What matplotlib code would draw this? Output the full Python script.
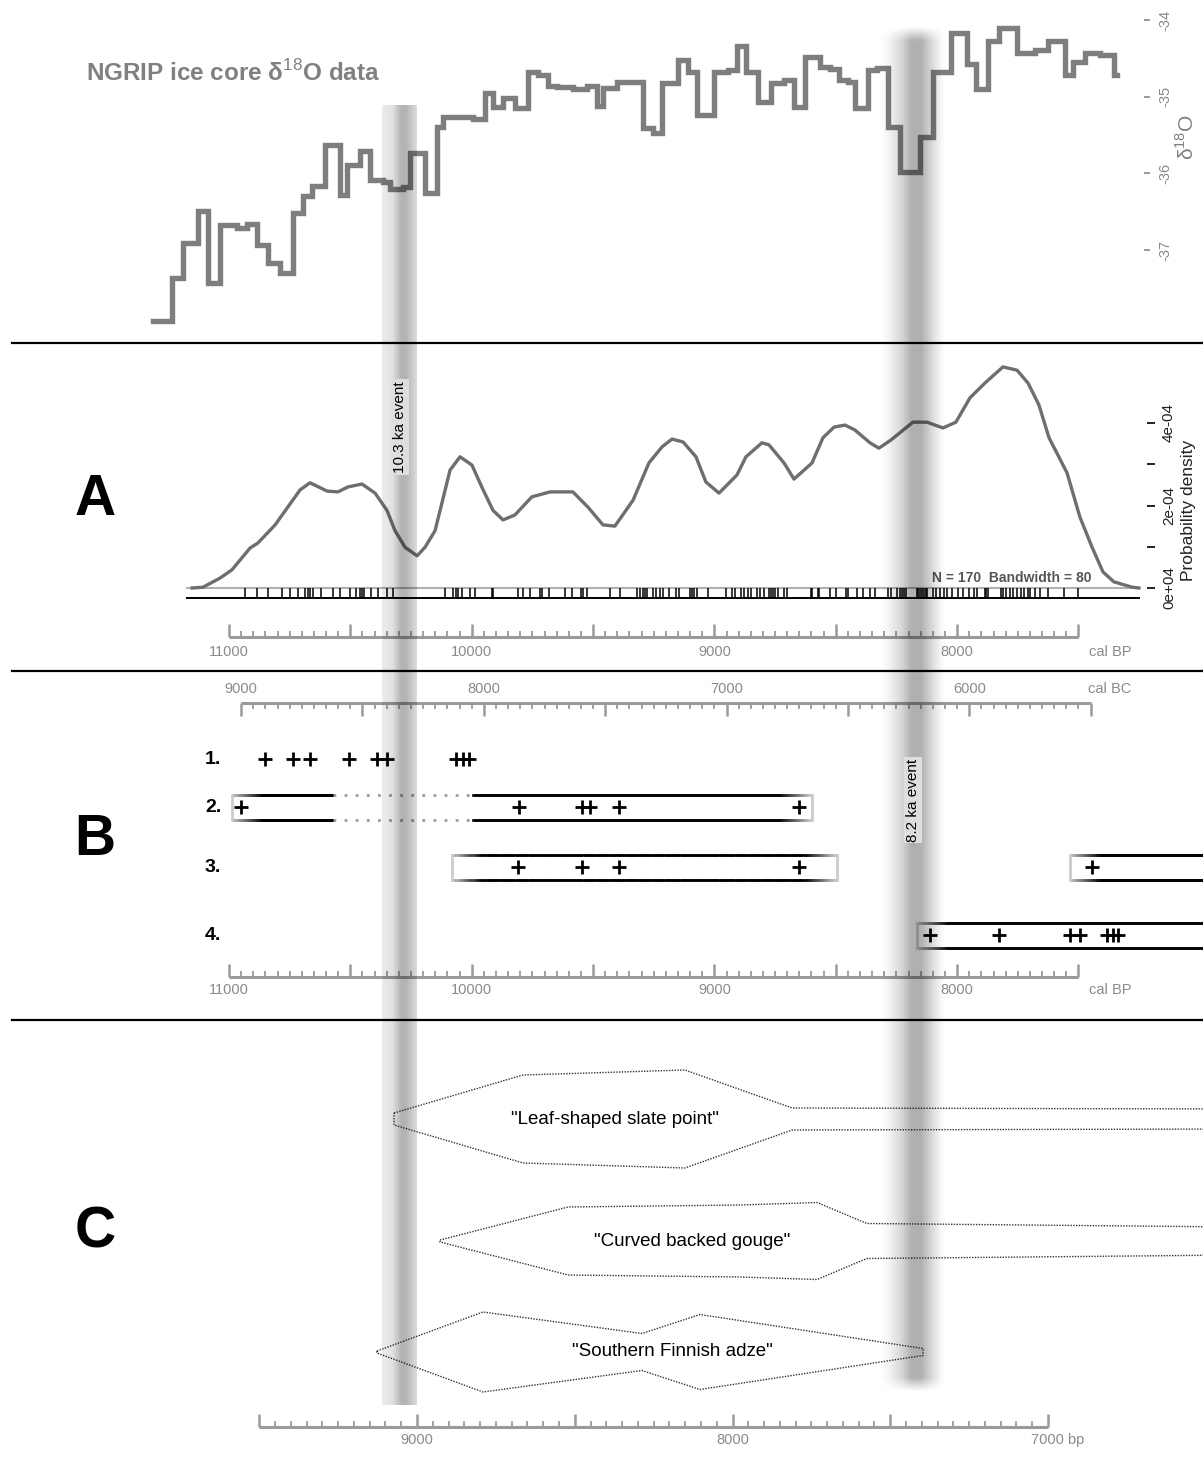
import numpy as np
import matplotlib.pyplot as plt
import matplotlib.transforms as mtransforms
from matplotlib.collections import LineCollection
from matplotlib.lines import Line2D

W, H = 1203, 1465
plt.rcParams['font.family'] = ['Liberation Sans', 'DejaVu Sans']
plt.rcParams['mathtext.fontset'] = 'custom'
plt.rcParams['mathtext.rm'] = 'Liberation Sans'

# ---------------- data ----------------
# NGRIP d18O, one value per step (step start in cal BP)
ngrip_bp = [11313, 11235, 11190, 11128, 11087, 11037, 10967, 10926, 10885, 10839,
            10790, 10736, 10695, 10658, 10604, 10543, 10514, 10460, 10419, 10365,
            10337, 10283, 10254, 10192, 10143, 10118, 10048, 9995, 9945, 9912,
            9871, 9822, 9768, 9727, 9686, 9649, 9583, 9525, 9484, 9459,
            9401, 9294, 9253, 9216, 9150, 9109, 9072, 9002, 8944, 8907,
            8870, 8820, 8767, 8713, 8672, 8627, 8565, 8524, 8487, 8450,
            8421, 8367, 8330, 8285, 8235, 8153, 8099, 8025, 7959, 7922,
            7873, 7827, 7753, 7679, 7626, 7555, 7522, 7473, 7411, 7354]
ngrip_d18o = [-37.92, -37.36, -36.91, -36.49, -37.43, -36.67, -36.71, -36.66, -36.93, -37.17,
              -37.30, -36.52, -36.29, -36.16, -35.63, -36.28, -35.89, -35.71, -36.09, -36.11,
              -36.20, -36.18, -35.73, -36.26, -35.40, -35.26, -35.26, -35.29, -34.95, -35.13,
              -35.02, -35.15, -34.68, -34.72, -34.86, -34.87, -34.90, -34.86, -35.12, -34.89,
              -34.81, -35.41, -35.47, -34.82, -34.52, -34.68, -35.24, -34.68, -34.65, -34.34,
              -34.68, -35.07, -34.82, -34.78, -35.13, -34.48, -34.61, -34.64, -34.78, -34.81,
              -35.15, -34.65, -34.63, -35.40, -35.98, -35.53, -34.68, -34.17, -34.57, -34.90,
              -34.27, -34.10, -34.43, -34.39, -34.27, -34.72, -34.55, -34.43, -34.46, -34.72]
ngrip_end = 7341
d18o_ticks = [-34, -35, -36, -37]

# summed 14C dates: kernel density (x 1e-4) and rug of dates
kde_bp = [11152, 11107, 11037, 10988, 10913, 10881, 10810, 10707, 10666, 10596,
          10551, 10510, 10452, 10398, 10349, 10316, 10275, 10225, 10192, 10151,
          10089, 10048, 9999, 9953, 9912, 9871, 9822, 9752, 9677, 9583,
          9521, 9459, 9410, 9335, 9270, 9216, 9175, 9129, 9076, 9035,
          8981, 8907, 8870, 8804, 8775, 8713, 8672, 8598, 8553, 8507,
          8462, 8421, 8359, 8322, 8272, 8182, 8124, 8058, 8005, 7947,
          7885, 7811, 7753, 7708, 7663, 7621, 7547, 7494, 7444, 7399,
          7354, 7279, 7251]
kde_dens = [0.00, 0.02, 0.24, 0.44, 0.97, 1.09, 1.53, 2.38, 2.55, 2.35,
            2.33, 2.45, 2.52, 2.30, 1.88, 1.39, 0.99, 0.78, 0.99, 1.39,
            2.86, 3.18, 2.98, 2.38, 1.88, 1.65, 1.77, 2.21, 2.33, 2.33,
            1.96, 1.53, 1.50, 2.13, 3.03, 3.42, 3.61, 3.54, 3.18, 2.57,
            2.30, 2.74, 3.18, 3.52, 3.47, 3.03, 2.64, 3.03, 3.64, 3.90,
            3.95, 3.83, 3.52, 3.39, 3.59, 4.02, 4.02, 3.88, 4.02, 4.61,
            4.97, 5.36, 5.28, 4.97, 4.44, 3.64, 2.79, 1.72, 0.99, 0.39,
            0.15, 0.02, 0.00]
rug_bp = [10934, 10886, 10841, 10783, 10749, 10714, 10687, 10673, 10666, 10653,
          10621, 10570, 10543, 10501, 10477, 10460, 10453, 10443, 10415, 10387,
          10348, 10323, 10110, 10076, 10065, 10055, 10041, 10007, 9986, 9918,
          9913, 9808, 9787, 9760, 9719, 9709, 9680, 9616, 9588, 9550,
          9540, 9526, 9430, 9389, 9320, 9307, 9296, 9286, 9277, 9252,
          9241, 9225, 9210, 9188, 9159, 9144, 9099, 9092, 9085, 9070,
          9026, 8952, 8929, 8915, 8892, 8877, 8863, 8848, 8826, 8811,
          8796, 8774, 8767, 8759, 8752, 8737, 8715, 8700, 8604, 8597,
          8574, 8567, 8523, 8500, 8456, 8449, 8412, 8389, 8360, 8338,
          8286, 8271, 8249, 8234, 8227, 8219, 8212, 8167, 8160, 8153,
          8145, 8138, 8130, 8123, 8101, 8086, 8071, 8056, 8042, 8019,
          7997, 7975, 7953, 7931, 7916, 7886, 7880, 7874, 7820, 7812,
          7798, 7783, 7768, 7753, 7738, 7724, 7709, 7701, 7679, 7657,
          7627, 7561, 7502]
kde_ticks = [0, 1, 2, 3, 4]
kde_labels = {0: '0e+04', 2: '2e-04', 4: '4e-04'}
kde_note = 'N = 170  Bandwidth = 80'

# panel B: dated finds per group (cal BP) and occupation spans
b_rows = ['1.', '2.', '3.', '4.']
b_dates = [[10852, 10736, 10666, 10506, 10390, 10349, 10065, 10036, 10011],
           [10951, 9805, 9546, 9513, 9393, 8651],
           [9809, 9546, 9393, 8651, 7445],
           [8112, 7827, 7535, 7494, 7382, 7358, 7337]]
b_spans = [[],
           [(10988, 10571, 'solid'), (10571, 9995, 'dotted'), (9995, 8598, 'solid')],
           [(10081, 8495, 'solid'), (7535, 6700, 'solid')],
           [(8165, 6700, 'solid')]]

# panel C: artefact types, outline half-widths along the bp scale
c_types = ['"Leaf-shaped slate point"', '"Curved backed gouge"', '"Southern Finnish adze"']
c_bp = [[9073, 8664, 8151, 7811, 6400],
        [8927, 8521, 7976, 7732, 7574, 6400],
        [9127, 8791, 8287, 8103, 7396]]
c_half = [[6, 44, 49, 11, 10],
          [1, 34, 36, 38.5, 17.5, 14],
          [1, 40, 18.5, 37.5, 3.5]]
c_label_bp = [8372, 8128, 8192]

events = ['10.3 ka event', '8.2 ka event']
event_bp = [10298, 8182]
event_half = [72, 136]

# ---------------- layout ----------------
X0_PX, BP0, PPY = 229, 11000, 0.2427      # cal BP scale
C0_PX, C_BP0, C_PPY = 417, 9000, 0.3155   # bp scale of panel C
cal_lim = (BP0 + X0_PX / PPY, BP0 - (W - X0_PX) / PPY)
c_lim = (C_BP0 + C0_PX / C_PPY, C_BP0 - (W - C0_PX) / C_PPY)
RULER = '#9a9a9a'
RTXT = '#8a8a8a'

fig = plt.figure(figsize=(W / 100, H / 100), dpi=100)
PX = mtransforms.Affine2D().scale(1.0 / W, -1.0 / H).translate(0, 1) + fig.transFigure


def panel(top, bottom, xlim):
    ax = fig.add_axes([0, 1 - bottom / H, 1, (bottom - top) / H])
    ax.set_xlim(*xlim)
    ax.axis('off')
    return ax


def tr_y(ax):
    return mtransforms.blended_transform_factory(ax.transData, PX)


def tr_x(ax):
    return mtransforms.blended_transform_factory(PX, ax.transData)


def ruler(ax, start, end, y, label_vals, label_y, up=True, shift=0):
    tr = tr_y(ax)
    s = -1 if up else 1
    ax.plot([start + shift, end + shift], [y, y], color=RULER, lw=2.2,
            solid_capstyle='butt', transform=tr)
    vals = np.arange(min(start, end), max(start, end) + 1, 50)
    major = vals[vals % 500 == 0] + shift
    minor = vals[vals % 500 != 0] + shift
    ax.vlines(major, y, y + s * 13, color=RULER, lw=1.8, transform=tr)
    ax.vlines(minor, y, y + s * 6, color=RULER, lw=1.3, transform=tr)
    for v in label_vals:
        ax.text(v + shift, label_y, str(v), ha='center', va='center',
                color=RTXT, fontsize=10.5, transform=tr)


def fade_line(ax, x0, x1, y, fade_l, fade_r, ls='solid'):
    if ls == 'dotted':
        ax.plot([x0, x1], [y, y], color='#9a9a9a', lw=2, ls=(0, (1, 3)),
                transform=tr_y(ax))
        return
    xs = np.linspace(x0, x1, 120)
    segs, cols = [], []
    for a, b in zip(xs[:-1], xs[1:]):
        m = (a + b) / 2
        f = 1.0
        if fade_l:
            f = min(f, abs(m - x0) / fade_l)
        if fade_r:
            f = min(f, abs(x1 - m) / fade_r)
        g = 0.8 * (1 - f)
        segs.append([(a, y), (b, y)])
        cols.append((g, g, g))
    ax.add_collection(LineCollection(segs, colors=cols, linewidths=1.9,
                                     capstyle='projecting', transform=tr_y(ax)))


# ---------------- top: NGRIP ----------------
ax0 = panel(0, 343, cal_lim)
ax0.set_ylim(-34 - 323 / 76.7, -34 + 20 / 76.7)
ax0.step(ngrip_bp + [ngrip_end], ngrip_d18o + [ngrip_d18o[-1]], where='post',
         color='#7e7e7e', lw=3.9, solid_joinstyle='miter')
ax0.hlines(d18o_ticks, 1144, 1150, color='#8a8a8a', lw=1.2, transform=tr_x(ax0))
for t in d18o_ticks:
    ax0.text(1165, t, str(t), rotation=90, ha='center', va='center', color='#8a8a8a',
             fontsize=10.5, transform=tr_x(ax0))
ax0.text(1187, 137, r'δ$^{18}$O', rotation=90, ha='center', va='center',
         color='#808080', fontsize=15, transform=PX)
ax0.text(86, 73, r'NGRIP ice core δ$^{18}$O data', ha='left', va='center',
         color='#808080', fontsize=17.5, fontweight='bold', transform=PX)

# ---------------- A: density ----------------
axA = panel(343, 671, cal_lim)
axA.set_ylim((588 - 671) / 41.25, (588 - 343) / 41.25)
axA.plot([11173, 7251], [0, 0], color='#b0b0b0', lw=1.5)
axA.plot(kde_bp, kde_dens, color='#6e6e6e', lw=2.4)
axA.vlines(rug_bp, 588, 598, color='k', lw=1.1, transform=tr_y(axA))
axA.plot([11173, 7251], [598, 598], color='k', lw=1.4, transform=tr_y(axA))
axA.hlines(kde_ticks, 1147, 1155, color='#222222', lw=1.4, transform=tr_x(axA))
for t, lab in kde_labels.items():
    axA.text(1169, t, lab, rotation=90, ha='center', va='center', color='#222222',
             fontsize=11, transform=tr_x(axA))
axA.text(1189, 510, 'Probability density', rotation=90, ha='center', va='center',
         color='#222222', fontsize=12.5, transform=PX)
axA.text(1092, 578, kde_note, ha='right', va='center', color='#555555',
         fontsize=10, fontweight='bold', transform=PX)
ruler(axA, 11000, 7500, 637, [11000, 10000, 9000, 8000], 652)
axA.text(1110, 652, 'cal BP', ha='center', va='center', color=RTXT, fontsize=10.5,
         transform=PX)
axA.text(95, 500, 'A', ha='center', va='center', fontsize=41, fontweight='bold',
         transform=PX)

# ---------------- B: groups ----------------
axB = panel(671, 1020, cal_lim)
ruler(axB, 9000, 5500, 703, [9000, 8000, 7000, 6000], 689, up=False, shift=1950)
axB.text(1110, 689, 'cal BC', ha='center', va='center', color=RTXT, fontsize=10.5,
         transform=PX)
ruler(axB, 11000, 7500, 977, [11000, 10000, 9000, 8000], 990)
axB.text(1110, 990, 'cal BP', ha='center', va='center', color=RTXT, fontsize=10.5,
         transform=PX)
row_y = [759, 807, 867, 935]
for lab, y, dates, spans in zip(b_rows, row_y, b_dates, b_spans):
    axB.text(213, y, lab, ha='center', va='center', fontsize=14, fontweight='bold',
             transform=PX)
    for i, (a, b, ls) in enumerate(spans):
        fl = 130 if (ls == 'solid' and (i == 0 or spans[i - 1][2] == 'solid')) else 0
        fr = 130 if (ls == 'solid' and b > cal_lim[1] and
                     (i == len(spans) - 1 or spans[i + 1][2] == 'solid')) else 0
        for yy in (y - 12.5, y + 12.5):
            fade_line(axB, a, b, yy, fl, fr, ls)
        if fl:
            axB.vlines(a, y - 12.5, y + 12.5, color='#cccccc', lw=2, transform=tr_y(axB))
        if fr:
            axB.vlines(b, y - 12.5, y + 12.5, color='#cccccc', lw=2, transform=tr_y(axB))
    axB.plot(dates, [y] * len(dates), '+', color='k', ms=10, mew=2,
             transform=tr_y(axB))
axB.text(95, 840, 'B', ha='center', va='center', fontsize=41, fontweight='bold',
         transform=PX)

# ---------------- C: artefact types ----------------
axC = panel(1020, H, c_lim)
c_y = [1119, 1241, 1352]
for name, xs, hw, yc, lx in zip(c_types, c_bp, c_half, c_y, c_label_bp):
    xs = np.array(xs, float)
    hw = np.array(hw, float)
    px = np.concatenate([xs, xs[::-1], xs[:1]])
    py = np.concatenate([yc - hw, (yc + hw)[::-1], [yc - hw[0]]])
    axC.plot(px, py, color='#333333', lw=1.0, ls=(0, (1, 1)), transform=tr_y(axC))
    axC.text(lx, yc, name, ha='center', va='center', fontsize=13.5, transform=tr_y(axC))
ruler(axC, 9500, 7000, 1427, [9000, 8000], 1440)
axC.annotate('7000 bp', (7000, 1440), xytext=(-12, 0), textcoords='offset points',
             ha='left', va='center', color=RTXT, fontsize=10.5, xycoords=tr_y(axC))
axC.text(95, 1232, 'C', ha='center', va='center', fontsize=41, fontweight='bold',
         transform=PX)

# ---------------- event bands ----------------
axE = fig.add_axes([0, 0, 1, 1])
axE.axis('off')
band_spec = [
    (105, 1405, 0, [0, 0.3, 0.55, 0.68, 1.0], [0.08, 0.12, 0.30, 0.30, 0.14]),
    (25, 1393, 14, [0, 0.12, 0.32, 0.47, 0.62, 0.8, 0.92, 1.0],
     [0.0, 0.04, 0.16, 0.31, 0.31, 0.13, 0.03, 0.0]),
]
for c, hw, (y0, y1, soft, pt, pa) in zip(event_bp, event_half, band_spec):
    nx, ny = 200, 400
    a = np.interp(np.linspace(0, 1, nx), pt, pa)
    yy = np.linspace(y0, y1, ny)
    v = np.ones(ny)
    if soft:
        v = np.clip(np.minimum(yy - y0, y1 - yy) / soft, 0, 1)
    img = np.zeros((ny, nx, 4))
    img[..., 3] = v[:, None] * a[None, :]
    axE.imshow(img, extent=(c + hw, c - hw, y1, y0), aspect='auto',
               interpolation='bilinear', zorder=1)
axE.set_xlim(*cal_lim)
axE.set_ylim(H, 0)
for name, c, y in zip(events, [10296, 8182], [427, 800]):
    axE.text(c, y, name, rotation=90, ha='center', va='center', fontsize=11,
             color='k', zorder=5,
             bbox=dict(boxstyle='square,pad=0.12', fc='#dedede', ec='none'))

for y in (343, 671, 1020):
    fig.add_artist(Line2D([12 / W, 1], [1 - y / H] * 2, transform=fig.transFigure,
                          color='k', lw=1.6))

fig.savefig('out.png', dpi=100)
